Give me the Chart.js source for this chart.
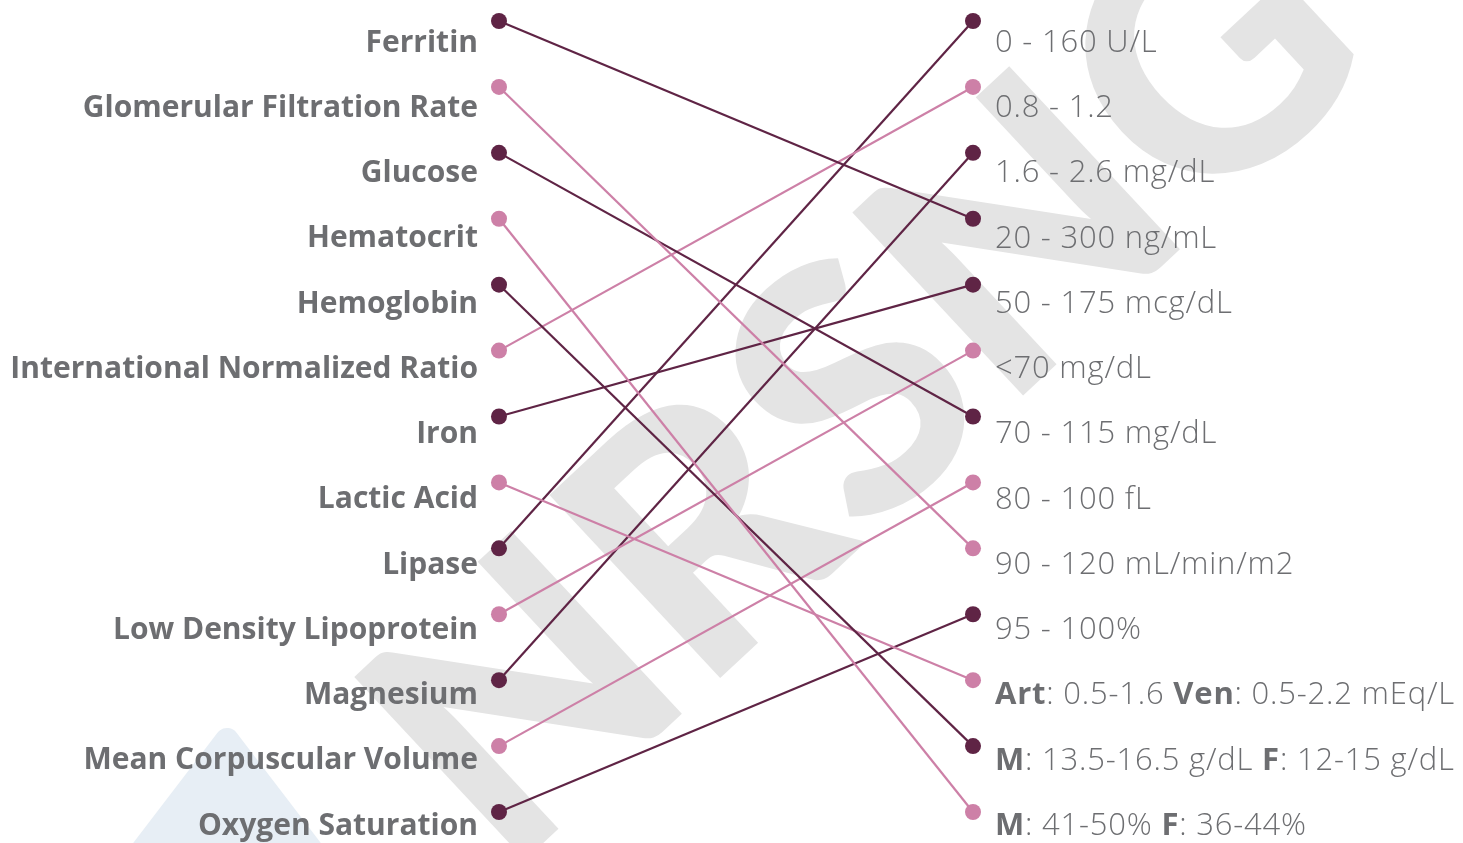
<!DOCTYPE html>
<html><head><meta charset="utf-8">
<script src="https://cdn.jsdelivr.net/npm/chart.js@4.4.1/dist/chart.umd.min.js"></script>
<style>html,body{margin:0;padding:0;background:#fff;overflow:hidden}</style>
</head><body><canvas id="c" width="1463" height="843"></canvas>
<script>
// ---- data ----
const labTests = ['Ferritin','Glomerular Filtration Rate','Glucose','Hematocrit','Hemoglobin','International Normalized Ratio','Iron','Lactic Acid','Lipase','Low Density Lipoprotein','Magnesium','Mean Corpuscular Volume','Oxygen Saturation'];
const normalRanges = ['0 - 160 U/L','0.8 - 1.2','1.6 - 2.6 mg/dL','20 - 300 ng/mL','50 - 175 mcg/dL','<70 mg/dL','70 - 115 mg/dL','80 - 100 fL','90 - 120 mL/min/m2','95 - 100%','Art: 0.5-1.6 Ven: 0.5-2.2 mEq/L','M: 13.5-16.5 g/dL F: 12-15 g/dL','M: 41-50% F: 36-44%'];
// index into normalRanges for each lab test
const matchedRange = [3,8,6,12,11,1,4,10,0,5,2,7,9];
const watermarkText = 'NRSNG';

// ---- styles ----
const DARK = '#5f2445', PINK = '#cd80a7', TEXT = '#6d6e71';
const FAMILY = '"Open Sans"';
const LEFT_FONT = {family:FAMILY, weight:'bold', size:30};
const RIGHT_SIZE = 31;
const LABEL_SHIFT = 2;

const datasets = labTests.map((t,i)=>{
  const c = i % 2 === 0 ? DARK : PINK;
  return {
    label: t,
    data: [{x:0, y:i}, {x:1, y:matchedRange[i]}],
    showLine: true, borderColor: c, backgroundColor: c, borderWidth: 2.2,
    pointRadius: 8, pointHoverRadius: 8, pointBorderWidth: 0, clip: false
  };
});

const backdrop = {
  id: 'backdrop',
  beforeDraw(chart){
    const ctx = chart.ctx;
    ctx.save();
    ctx.fillStyle = '#fff';
    ctx.fillRect(0,0,chart.width,chart.height);
    // light blue triangle
    ctx.fillStyle = '#e7eef5'; ctx.strokeStyle = '#e7eef5';
    ctx.lineJoin = 'round'; ctx.lineWidth = 24;
    ctx.beginPath(); ctx.moveTo(227,740); ctx.lineTo(120,880); ctx.lineTo(334,880); ctx.closePath();
    ctx.fill(); ctx.stroke();
    // watermark
    ctx.translate(868, 388);
    ctx.rotate(-43*Math.PI/180);
    ctx.font = '900 345px Lato';
    ctx.textAlign = 'center'; ctx.textBaseline = 'middle';
    ctx.fillStyle = '#e4e4e4';
    ctx.fillText(watermarkText, 0, 0);
    ctx.restore();
  }
};

const rightLabels = {
  id: 'rightLabels',
  afterDraw(chart){
    const ctx = chart.ctx, yr = chart.scales.yr;
    const x0 = chart.chartArea.right + 10;
    ctx.save();
    ctx.fillStyle = TEXT; ctx.textBaseline = 'middle'; ctx.textAlign = 'left';
    ctx.letterSpacing = '0.8px';
    normalRanges.forEach((txt,i)=>{
      const y = yr.getPixelForValue(i) + LABEL_SHIFT;
      let x = x0;
      txt.split(/([A-Za-z]+)(?=:)/).forEach((part,k)=>{
        if(!part) return;
        ctx.font = (k % 2 === 1 ? 'bold ' : '300 ') + RIGHT_SIZE + 'px ' + FAMILY;
        ctx.fillText(part, x, y);
        x += ctx.measureText(part).width;
      });
    });
    ctx.restore();
  }
};

const noPad = s => { s.paddingTop = 0; s.paddingBottom = 0; s.paddingLeft = 0; s.paddingRight = 0; };

function build(){
  new Chart(document.getElementById('c'), {
    type: 'scatter',
    data: { datasets },
    plugins: [backdrop, rightLabels],
    options: {
      responsive: false, animation: false, devicePixelRatio: 1,
      layout: {padding: 0, autoPadding: false},
      plugins: { legend: {display:false}, tooltip: {enabled:false} },
      scales: {
        x: { type:'linear', display:false, min:-0.0232, max:1.0253 },
        y: { type:'linear', display:false, reverse:true, min:-0.3186, max:12.47 },
        yl: { type:'linear', position:'left', reverse:true, min:-0.628, max:12.29,
          grid:{display:false, drawTicks:false}, border:{display:false},
          afterBuildTicks: s => { s.ticks = labTests.map((_,i)=>({value:i})); },
          afterFit: s => { s.width = 488; noPad(s); },
          ticks:{ padding:10, autoSkip:false, labelOffset: LABEL_SHIFT, font:LEFT_FONT, color:TEXT, callback: v => labTests[v] } },
        yr: { type:'linear', position:'right', reverse:true, min:-0.628, max:12.29,
          grid:{display:false, drawTicks:false}, border:{display:false},
          afterBuildTicks: s => { s.ticks = normalRanges.map((_,i)=>({value:i})); },
          afterFit: s => { s.width = 478; noPad(s); },
          ticks:{ display:false } }
      }
    }
  });
}
Promise.all([document.fonts.load('bold 30px "Open Sans"'), document.fonts.load('300 31px "Open Sans"'), document.fonts.load('900 345px Lato')])
  .catch(()=>{}).then(build);
</script></body></html>
